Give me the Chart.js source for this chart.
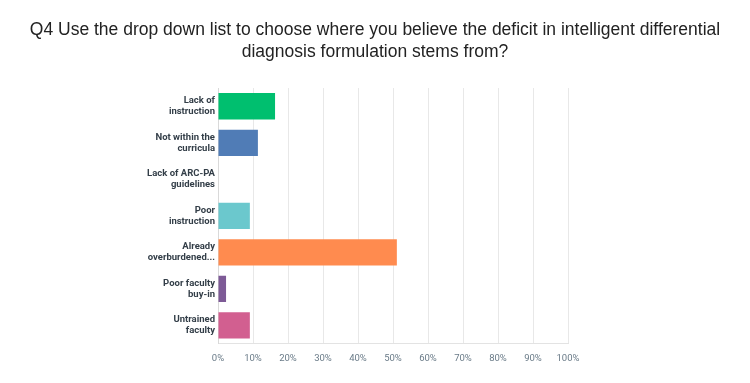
<!DOCTYPE html>
<html lang="en">
<head>
    <meta charset="UTF-8">
    <title>Q4 chart</title>
    <style>
        html, body { margin: 0; padding: 0; background: #ffffff; }
        #wrap { position: relative; width: 750px; height: 383px; }
        #title {
            position: absolute;
            left: 0; top: 18px; width: 750px;
            text-align: center;
            font-family: Arial, "Liberation Sans", sans-serif;
            font-size: 17.5px;
            line-height: 22px;
            color: #222222;
        }
        canvas { position: absolute; left: 0; top: 0; }
    </style>
</head>
<body>
    <div id="wrap">
        <canvas id="chart" width="750" height="383"></canvas>
        <div id="title"></div>
    </div>

    <script src="https://cdn.jsdelivr.net/npm/chart.js"></script>
    <script>
        const titleLines = [
            'Q4 Use the drop down list to choose where you believe the deficit in intelligent differential',
            'diagnosis formulation stems from?'
        ];
        const categories = [
            ['Lack of', 'instruction'],
            ['Not within the', 'curricula'],
            ['Lack of ARC-PA', 'guidelines'],
            ['Poor', 'instruction'],
            ['Already', 'overburdened...'],
            ['Poor faculty', 'buy-in'],
            ['Untrained', 'faculty']
        ];
        const values = [16.3, 11.4, 0, 9.1, 51.1, 2.3, 9.1];
        const barColors = ['#00bf6f', '#507cb6', '#6bc8cd', '#6bc8cd', '#ff8b4f', '#7d5a96', '#d25f90'];
        const xTicks = [0, 10, 20, 30, 40, 50, 60, 70, 80, 90, 100];

        // title as plain html text, centred on the whole page
        document.getElementById('title').innerHTML = titleLines.join('<br>');

        const ctx = document.getElementById('chart').getContext('2d');

        const chart = new Chart(ctx, {
            type: 'bar',
            data: {
                labels: categories,
                datasets: [{
                    data: values,
                    backgroundColor: barColors,
                    borderWidth: 0,
                    barPercentage: 0.72,
                    categoryPercentage: 1
                }]
            },
            options: {
                indexAxis: 'y',
                responsive: false,
                animation: false,
                layout: {
                    padding: { left: 0, right: 182, top: 88, bottom: 10 }
                },
                plugins: {
                    legend: { display: false },
                    tooltip: { enabled: false },
                    title: { display: false }
                },
                scales: {
                    x: {
                        min: 0,
                        max: 100,
                        afterBuildTicks: (scale) => {
                            scale.ticks = xTicks.map(v => ({ value: v }));
                        },
                        grid: {
                            color: '#e8e8e8',
                            drawTicks: false
                        },
                        border: { display: true, color: '#e3e3e3' },
                        ticks: {
                            padding: 9,
                            color: '#6a7b88',
                            font: { family: 'Roboto, sans-serif', size: 9.5 },
                            callback: (v) => v + '%',
                            maxRotation: 0
                        }
                    },
                    y: {
                        afterFit: (scale) => { scale.width = 218; },
                        grid: { display: false, drawTicks: false },
                        border: { display: true, color: '#d9d9d9', width: 1 },
                        ticks: {
                            padding: 3,
                            color: '#333e48',
                            font: { family: 'Roboto, sans-serif', size: 9.5, weight: 'bold', lineHeight: 1.15 }
                        }
                    }
                }
            }
        });
    </script>
</body>
</html>
